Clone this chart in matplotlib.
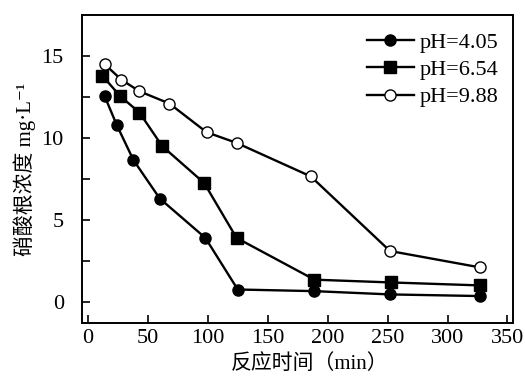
import matplotlib
matplotlib.use("Agg")
import matplotlib.pyplot as plt

plt.rcParams["font.family"] = ["Liberation Serif", "Noto Sans CJK SC", "DejaVu Sans"]

# pH=4.05 (filled circles)
t_405 = [14, 24, 38, 60, 98, 125, 189, 252, 327]
c_405 = [12.55, 10.8, 8.65, 6.3, 3.9, 0.75, 0.65, 0.45, 0.35]
# pH=6.54 (filled squares)
t_654 = [12, 27, 43, 62, 97, 124, 189, 253, 327]
c_654 = [13.8, 12.55, 11.55, 9.5, 7.25, 3.9, 1.35, 1.18, 1.0]
# pH=9.88 (open circles)
t_988 = [14, 28, 43, 68, 99, 124, 186, 252, 327]
c_988 = [14.5, 13.55, 12.85, 12.1, 10.35, 9.7, 7.65, 3.1, 2.1]

xticks = [0, 50, 100, 150, 200, 250, 300, 350]
yticks = [0, 5, 10, 15]

fig = plt.figure(figsize=(5.25, 3.77), dpi=100)
ax = fig.add_axes([0.156, 0.143, 0.822, 0.817])

kw = dict(color="black", lw=1.7, ms=8, mew=1.0, mec="black")
ax.plot(t_405, c_405, marker="o", mfc="black", label="pH=4.05", **kw)
ax.plot(t_654, c_654, marker="s", mfc="black", label="pH=6.54", **kw)
ax.plot(t_988, c_988, marker="o", mfc="white", label="pH=9.88", **kw)

ax.set_xlim(-5, 355)
ax.set_ylim(-1.3, 17.5)
ax.set_xticks(xticks)
ax.set_yticks(yticks)
ax.set_yticks([2.5, 7.5, 12.5], minor=True)
ax.tick_params(direction="in", labelsize=16, length=6, width=1.2)
ax.tick_params(axis="x", pad=4)
ax.tick_params(axis="y", pad=13)
ax.tick_params(which="minor", direction="in", length=6, width=1.2)
for s in ax.spines.values():
    s.set_linewidth(1.4)

ax.set_xlabel("反应时间（min）", fontsize=15)
ax.xaxis.set_label_coords(0.528, -0.1)
ax.set_ylabel("硝酸根浓度 mg·L⁻¹", fontsize=15, labelpad=4)

ax.legend(loc="upper right", frameon=False, fontsize=16, handlelength=2.1,
          handletextpad=0.25, labelspacing=0.3, borderaxespad=0.1,
          bbox_to_anchor=(0.99, 0.98))

fig.savefig("out.png", dpi=100)
